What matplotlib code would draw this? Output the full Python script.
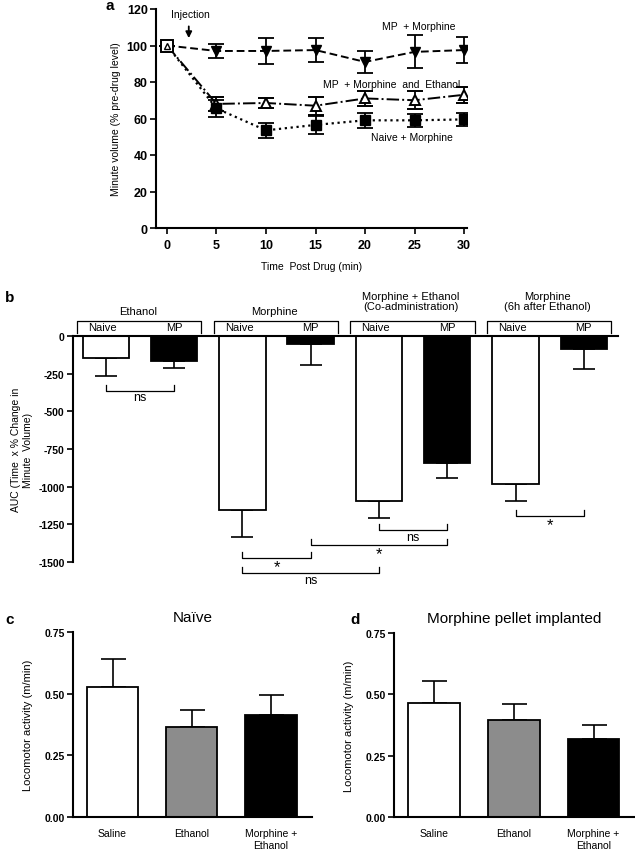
import matplotlib
matplotlib.use("Agg")
import matplotlib.pyplot as plt
import numpy as np

plt.rcParams['font.family'] = ['Liberation Sans', 'DejaVu Sans']
plt.rcParams['axes.unicode_minus'] = False

# panel a data
time_min = [0, 5, 10, 15, 20, 25, 30]
mp_morph = [100, 97, 97, 97.5, 91, 96.5, 97.5]
mp_morph_err = [0, 4, 7, 6.5, 6, 9, 7]
mp_morph_eth = [100, 68, 68.5, 67, 71, 70, 73]
mp_morph_eth_err = [0, 4, 3, 5, 4, 5, 4.5]
naive_morph = [100, 65.5, 53.5, 56.5, 59, 59, 59.5]
naive_morph_err = [0, 4.5, 4, 5, 4, 3.5, 3.5]

# panel b data
b_groups = ["Ethanol", "Morphine", "Morphine + Ethanol\n(Co-administration)", "Morphine\n(6h after Ethanol)"]
b_sub = ["Naive", "MP"]
b_auc = [-144, -169, -1152, -55, -1096, -841, -981, -84]
b_err = [124, 44, 179, 136, 115, 104, 117, 138]
b_colors = ["white", "black"] * 4
# (bar i, bar j, bracket level, label)
b_sig = [(0, 1, -362, "ns"), (2, 3, -1473, "*"), (2, 4, -1575, "ns"),
         (3, 5, -1387, "*"), (4, 5, -1287, "ns"), (6, 7, -1198, "*")]

# panels c and d data
loco_labels = ["Saline", "Ethanol", "Morphine +\nEthanol"]
loco_colors = ["white", "#8c8c8c", "black"]
naive_loco = [0.527, 0.365, 0.415]
naive_loco_err = [0.112, 0.067, 0.078]
mp_loco = [0.466, 0.397, 0.317]
mp_loco_err = [0.087, 0.065, 0.059]

W, H = 635, 853
fig = plt.figure(figsize=(W / 100, H / 100), dpi=100)


def rect(l, r, t, b):
    return [l / W, 1 - b / H, (r - l) / W, (b - t) / H]


def style(ax, size=7.5):
    for s in ["top", "right"]:
        ax.spines[s].set_visible(False)
    for s in ["left", "bottom"]:
        ax.spines[s].set_linewidth(1.5)
    ax.tick_params(direction="out", length=4, width=1.2, labelsize=size, pad=2)
    for lab in ax.get_xticklabels() + ax.get_yticklabels():
        lab.set_fontweight("bold")


# ---------- a ----------
ax = fig.add_axes(rect(156, 467, 10, 229))
ax.errorbar(time_min, mp_morph, yerr=mp_morph_err, fmt="v--", color="black", ms=7.5,
            lw=1.4, capsize=6, elinewidth=1.3, capthick=1.3, dashes=(4, 2))
ax.errorbar(time_min, mp_morph_eth, yerr=mp_morph_eth_err, fmt="^-.", color="black",
            mfc="white", mew=1.4, ms=7.5, lw=1.4, capsize=6, elinewidth=1.3, capthick=1.3)
ax.errorbar(time_min, naive_morph, yerr=naive_morph_err, fmt="s:", color="black", ms=7.5,
            lw=1.6, capsize=6, elinewidth=1.3, capthick=1.3)
ax.plot([0], [100], "s", mfc="white", mec="black", mew=1.4, ms=8, zorder=6)
ax.plot([0], [100], "^", mfc="white", mec="black", mew=1.0, ms=5, zorder=7)
ax.set_xlim(-1.11, 30.3)
ax.set_ylim(0, 120)
ax.set_xticks(time_min)
ax.set_yticks(np.arange(0, 121, 20))
style(ax, 9)
ax.tick_params(axis="x", pad=4)
ax.set_xlabel("Time  Post Drug (min)", fontsize=7.5, labelpad=7)
ax.set_ylabel("Minute volume (% pre-drug level)", fontsize=7.5, labelpad=4)
ax.annotate("", xy=(2.2, 102.5), xytext=(2.2, 112),
            arrowprops=dict(arrowstyle="-|>", color="black", lw=1.3, mutation_scale=9))
ax.text(2.4, 117, "Injection", ha="center", va="center", fontsize=7.5, clip_on=False)
ax.text(25.4, 110.7, "MP  + Morphine", ha="center", va="center", fontsize=7.5)
ax.text(22.7, 79, "MP  + Morphine  and  Ethanol", ha="center", va="center", fontsize=7.5)
ax.text(24.7, 50, "Naive + Morphine", ha="center", va="center", fontsize=7.5)
fig.text(105 / W, 1 - 6 / H, "a", fontsize=11, fontweight="bold", va="center")

# ---------- b ----------
ax = fig.add_axes(rect(73, 618, 337, 563))
xb = np.arange(len(b_auc))
ax.bar(xb, b_auc, width=0.68, color=b_colors, edgecolor="black", linewidth=1.3, zorder=2)
ax.errorbar(xb, b_auc, yerr=[b_err, [0] * len(b_err)], fmt="none", ecolor="black",
            elinewidth=1.2, capsize=8, capthick=1.2, zorder=1)
ax.set_xlim(-0.48, 7.5)
ax.set_ylim(-1500, 0)
ax.spines["bottom"].set_position(("data", 0))
ax.set_xticks([])
ax.set_yticks(np.arange(-1500, 1, 250))
style(ax, 7.5)
ax.tick_params(axis="x", length=0)
ax.set_ylabel("AUC (Time  x % Change in\nMinute  Volume)", fontsize=7.5, labelpad=4)
for g, name in enumerate(b_groups):
    x0 = 2 * g - 0.42
    x1 = 2 * g + 1.4
    ax.plot([x0, x0, x1, x1], [20, 100, 100, 20], color="black", lw=0.9, clip_on=False)
    ax.text(2 * g - 0.05, 62, b_sub[0], ha="center", va="center", fontsize=8)
    ax.text(2 * g + 1, 58, b_sub[1], ha="center", va="center", fontsize=8)
    ty = 168 if "\n" not in name else 232
    ax.text(2 * g + 0.47, ty, name, ha="center", va="center", fontsize=8,
            linespacing=1.1, clip_on=False)
for i, j, lev, lab in b_sig:
    ax.plot([i, i, j, j], [lev + 40, lev, lev, lev + 40], color="black", lw=0.9,
            clip_on=False)
    if lab == "*":
        ax.text((i + j) / 2, lev - 55, lab, ha="center", va="center", fontsize=12,
                clip_on=False)
    else:
        ax.text((i + j) / 2, lev - 45, lab, ha="center", va="center", fontsize=9,
                clip_on=False)
fig.text(5 / W, 1 - 298 / H, "b", fontsize=11, fontweight="bold", va="center")

# ---------- c, d ----------
for r, title, vals, errs, lab, lx in [
        ((73, 312, 633, 818), "Naïve", naive_loco, naive_loco_err, "c", 5),
        ((394, 635, 634, 818), "Morphine pellet implanted", mp_loco, mp_loco_err, "d", 350)]:
    ax = fig.add_axes(rect(*r))
    xc = np.arange(len(vals))
    ax.bar(xc, vals, width=0.65, color=loco_colors, edgecolor="black", linewidth=1.3,
           zorder=2)
    ax.errorbar(xc, vals, yerr=[[0] * len(errs), errs], fmt="none", ecolor="black",
                elinewidth=1.2, capsize=9, capthick=1.2, zorder=1)
    ax.set_xlim(-0.5, 2.52)
    ax.set_ylim(0, 0.75)
    ax.set_yticks([0, 0.25, 0.5, 0.75])
    ax.set_xticks(xc)
    ax.set_xticklabels(loco_labels)
    style(ax, 7.5)
    ax.tick_params(axis="x", length=0, pad=8)
    for t in ax.get_xticklabels():
        t.set_fontweight("normal")
        t.set_fontsize(7.5)
    ax.set_ylabel("Locomotor activity (m/min)", fontsize=8, labelpad=8)
    ax.set_title(title, fontsize=11, pad=8)
    fig.text(lx / W, 1 - 620 / H, lab, fontsize=11, fontweight="bold", va="center")

fig.savefig("out.png", dpi=100)
